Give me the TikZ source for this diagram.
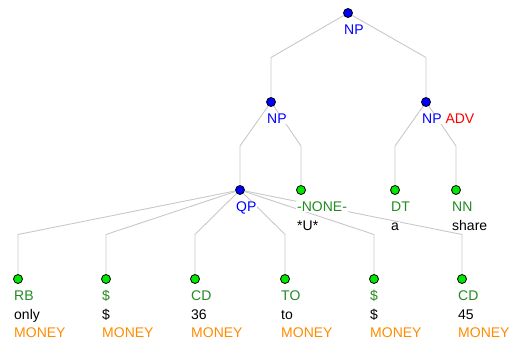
\documentclass[tikz,border=0pt]{standalone}
\usepackage{fontspec}
\setmainfont{Liberation Sans}
\usetikzlibrary{calc}

\definecolor{phrasecol}{RGB}{0,0,255}
\definecolor{tagcol}{RGB}{34,139,34}
\definecolor{necol}{RGB}{255,140,0}
\definecolor{dotgreen}{RGB}{0,230,0}
\definecolor{branchcol}{RGB}{200,200,200}
\definecolor{funccol}{RGB}{255,0,0}

\tikzset{
  phrase/.style={circle,draw=black,line width=0.8pt,fill=phrasecol,inner sep=0pt,minimum size=9pt},
  leaf/.style={circle,draw=black,line width=0.8pt,fill=dotgreen,inner sep=0pt,minimum size=9pt},
  branch/.style={draw=branchcol,line width=0.9pt,
    to path={let \p1=(\tikztostart), \p2=(\tikztotarget) in
      -- (\x2,{0.5*\y1+0.5*\y2}) -- (\tikztotarget)}},
  txt/.style={anchor=base west,fill=white,inner xsep=1pt,inner ysep=0.5pt,
    font=\fontsize{14}{16}\selectfont},
}

\begin{document}
\begin{tikzpicture}[x=1pt,y=-1pt]
  \useasboundingbox (0,0) rectangle (513,345);

  % phrase nodes
  \node[phrase] (root) at (348,13) {};
  \node[phrase] (np1) at (271,102) {};
  \node[phrase] (np2) at (426,102) {};
  \node[phrase] (qp) at (240,190) {};

  % word nodes
  \node[leaf] (none) at (301,190) {};
  \node[leaf] (dt) at (395,190) {};
  \node[leaf] (nn) at (456,190) {};
  \node[leaf] (rb) at (18,279) {};
  \node[leaf] (dollara) at (106,279) {};
  \node[leaf] (cda) at (195,279) {};
  \node[leaf] (to) at (285,279) {};
  \node[leaf] (dollarb) at (374,279) {};
  \node[leaf] (cdb) at (462,279) {};

  \path[branch]
    (root) edge (np1)
    (root) edge (np2)
    (np1) edge (qp)
    (np1) edge (none)
    (np2) edge (dt)
    (np2) edge (nn)
    (qp) edge (rb)
    (qp) edge (dollara)
    (qp) edge (cda)
    (qp) edge (to)
    (qp) edge (dollarb)
    (qp) edge (cdb);

  % labels
  \node[txt,text=phrasecol] (root-tag) at ($(root)+(-5,21.5)$) {NP};
  \node[txt,text=phrasecol] (np1-tag) at ($(np1)+(-5,21.5)$) {NP};
  \node[txt] (np2-tag) at ($(np2)+(-5,21.5)$) {\textcolor{phrasecol}{NP} \textcolor{funccol}{ADV}};
  \node[txt,text=phrasecol] (qp-tag) at ($(qp)+(-5,21.5)$) {QP};

  \node[txt,text=tagcol] (none-tag) at ($(none)+(-5,21.5)$) {-NONE-};
  \node[txt] (none-word) at ($(none)+(-5,40)$) {*U*};
  \node[txt,text=tagcol] (dt-tag) at ($(dt)+(-5,21.5)$) {DT};
  \node[txt] (dt-word) at ($(dt)+(-5,40)$) {a};
  \node[txt,text=tagcol] (nn-tag) at ($(nn)+(-5,21.5)$) {NN};
  \node[txt] (nn-word) at ($(nn)+(-5,40)$) {share};

  \foreach \n/\t/\w in {rb/RB/only, dollara/\$/\$, cda/CD/36,
                        to/TO/to, dollarb/\$/\$, cdb/CD/45} {
    \node[txt,text=tagcol] (\n-tag) at ($(\n)+(-5,21.5)$) {\t};
    \node[txt] (\n-word) at ($(\n)+(-5,40)$) {\w};
    \node[txt,text=necol] (\n-ne) at ($(\n)+(-5,58.5)$) {MONEY};
  }

\end{tikzpicture}
\end{document}
